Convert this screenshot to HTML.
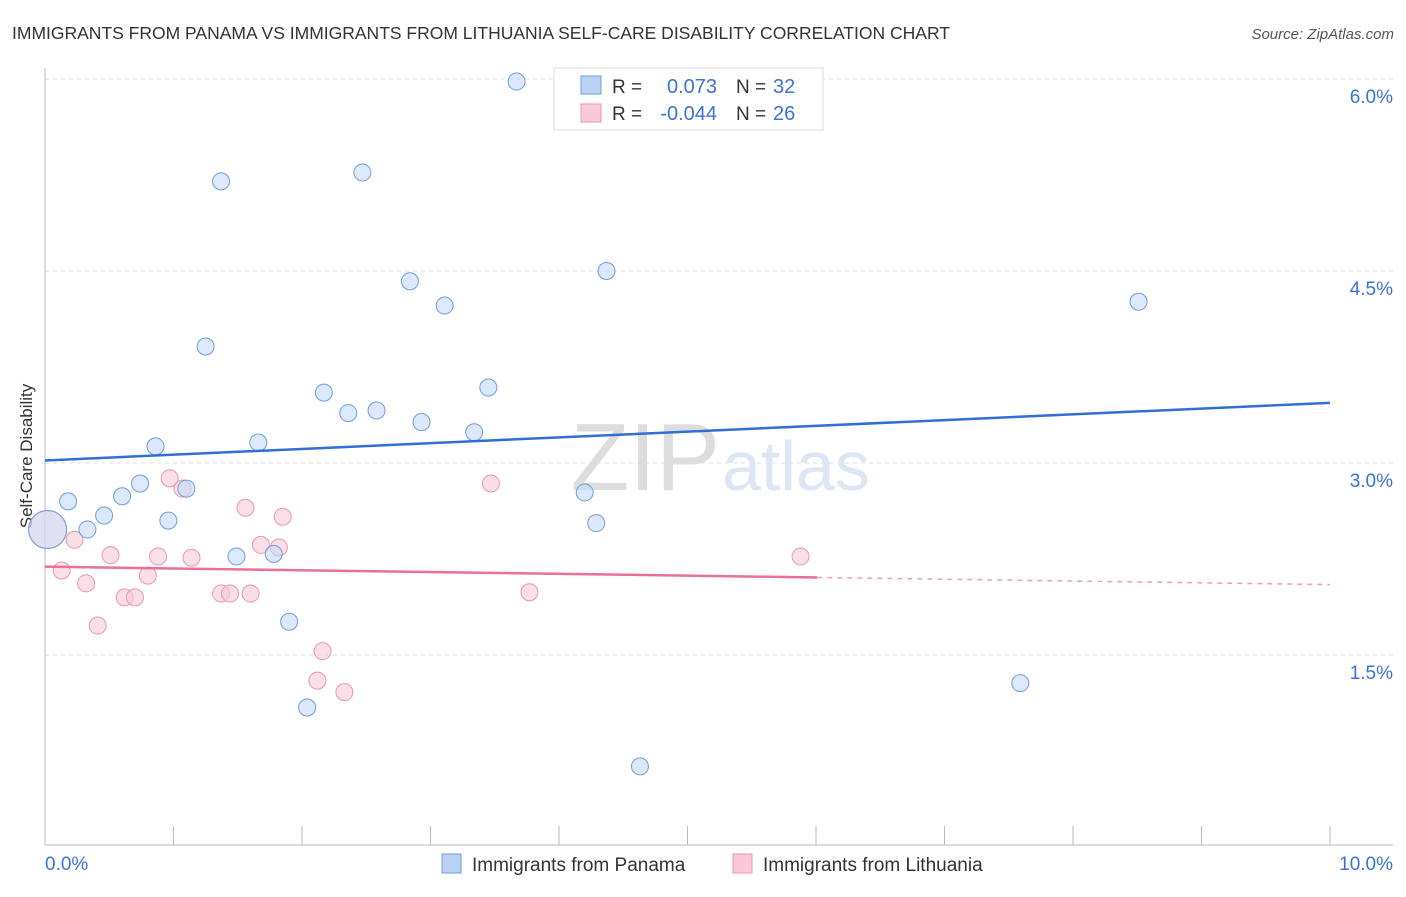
<!DOCTYPE html>
<html><head><meta charset="utf-8"><style>
body{margin:0;background:#fff;font-family:"Liberation Sans",sans-serif;}
svg text{font-family:"Liberation Sans",sans-serif;}
</style></head><body>
<svg id="c" width="1406" height="892">
<text x="12" y="39" font-size="17.5" fill="#333">IMMIGRANTS FROM PANAMA VS IMMIGRANTS FROM LITHUANIA SELF-CARE DISABILITY CORRELATION CHART</text>
<text x="1394" y="39" font-size="15" fill="#555" font-style="italic" text-anchor="end">Source: ZipAtlas.com</text>
<text x="32" y="456" font-size="17" fill="#333" text-anchor="middle" transform="rotate(-90 32 456)">Self-Care Disability</text>
<g id="grid"></g>
<text x="720" y="490" font-size="96" fill="#ddd" text-anchor="end" font-family="Liberation Serif">ZIP</text>
<text x="722" y="490" font-size="70" fill="#dde6f4">atlas</text>
<g id="marks"></g>
<g>
<rect x="554" y="68" width="269" height="62" fill="#fff" stroke="#ddd"/>
<rect x="581" y="76" width="20" height="18" fill="#b9d3f5" stroke="#6f9de0"/>
<rect x="581" y="104" width="20" height="18" fill="#f9c9d7" stroke="#eb96b0"/>
<text x="612" y="93" font-size="19" fill="#333">R = </text><text x="717" y="93" font-size="20" fill="#3b74d4" text-anchor="end">0.073</text>
<text x="736" y="93" font-size="19" fill="#333">N = </text><text x="773" y="93" font-size="20" fill="#3b74d4">32</text>
<text x="612" y="120" font-size="19" fill="#333">R = </text><text x="717" y="120" font-size="20" fill="#3b74d4" text-anchor="end">-0.044</text>
<text x="736" y="120" font-size="19" fill="#333">N = </text><text x="773" y="120" font-size="20" fill="#3b74d4">26</text>
</g>
<g>
<rect x="442" y="854" width="19" height="19" fill="#b9d3f5" stroke="#6f9de0"/>
<text x="472" y="871" font-size="19" fill="#333">Immigrants from Panama</text>
<rect x="733" y="854" width="19" height="19" fill="#f9c9d7" stroke="#eb96b0"/>
<text x="763" y="871" font-size="19" fill="#333">Immigrants from Lithuania</text>
</g>
</svg>
<script>
const yTicks=[1.5,3.0,4.5,6.0];
const yTickLabels=["1.5%","3.0%","4.5%","6.0%"];
const xLabels=["0.0%","10.0%"];
const panamaX=[3.67,1.37,2.47,2.84,3.11,4.37,8.51,1.25,2.17,3.45,2.36,2.58,2.93,3.34,0.86,1.66,0.74,0.18,0.60,1.10,0.46,0.96,0.33,4.20,4.29,1.49,1.78,1.90,2.04,7.59,4.63,0.02];
const panamaY=[5.98,5.20,5.27,4.42,4.23,4.50,4.26,3.91,3.55,3.59,3.39,3.41,3.32,3.24,3.13,3.16,2.84,2.70,2.74,2.80,2.59,2.55,2.48,2.77,2.53,2.27,2.29,1.76,1.09,1.28,0.63,2.48];
const lithX=[0.97,1.07,3.47,1.56,1.85,0.23,0.51,0.88,1.14,1.68,1.82,0.13,0.80,0.32,0.62,0.70,1.37,1.44,1.60,3.77,0.41,2.16,2.12,2.33,5.88,0.02];
const lithY=[2.88,2.80,2.84,2.65,2.58,2.40,2.28,2.27,2.26,2.36,2.34,2.16,2.12,2.06,1.95,1.95,1.98,1.98,1.98,1.99,1.73,1.53,1.30,1.21,2.27,2.48];
const panamaTrend=[3.02,3.47];
const lithTrend=[2.19,2.05];
const lithSolidEnd=6.01;
const NS="http://www.w3.org/2000/svg";
const X=v=>45+v*128.5, Y=v=>847-v*128;
function mk(tag,attrs,parent){const e=document.createElementNS(NS,tag);for(const k in attrs)e.setAttribute(k,attrs[k]);parent.appendChild(e);return e;}
const grid=document.getElementById('grid'), marks=document.getElementById('marks'), svg=document.getElementById('c');
yTicks.forEach((t,i)=>{
 const l=mk('line',{x1:45,x2:1393,y1:Y(t),y2:Y(t),stroke:'#ddd','stroke-dasharray':'4,4'},grid);
 
 
 const tx=mk('text',{x:1393,y:Y(t)+24,'font-size':19,fill:'#3b74d4','text-anchor':'end'},grid);
 tx.textContent=yTickLabels[i];
 
 
});
const ax=mk('line',{x1:45,x2:45,y1:68,y2:845,stroke:'#bbb'},grid);


const bx=mk('line',{x1:45,x2:1393,y1:845,y2:845,stroke:'#bbb'},grid);


for(let i=0;i<=10;i++){
 const t=mk('line',{x1:X(i),x2:X(i),y1:826,y2:845,stroke:'#bbb'},grid);
 
 
}
const xl0=mk('text',{x:45,y:870,'font-size':19,fill:'#3b74d4'},grid);xl0.textContent=xLabels[0];


const xl1=mk('text',{x:1393,y:870,'font-size':19,fill:'#3b74d4','text-anchor':'end'},grid);xl1.textContent=xLabels[1];


function pts(xs,ys,fill,stroke,name){
 xs.forEach((x,i)=>{
  const big=i===xs.length-1;
  const c=mk('circle',{cx:X(x),cy:Y(ys[i]),r:big?19:8.5,fill:fill,'fill-opacity':big?0.5:0.6,stroke:stroke,'stroke-width':1},marks);
  
  
 });
}
pts(lithX,lithY,'#f9c9d7','#eb96b0','lithuania-point');
pts(panamaX,panamaY,'#c4dbf6','#6f9de0','panama-point');
const pl=mk('line',{x1:X(0),y1:Y(panamaTrend[0]),x2:X(10),y2:Y(panamaTrend[1]),stroke:'#2f6fd6','stroke-width':2.5},marks);


const ly=x=>lithTrend[0]+(lithTrend[1]-lithTrend[0])*x/10;
const ll=mk('line',{x1:X(0),y1:Y(ly(0)),x2:X(lithSolidEnd),y2:Y(ly(lithSolidEnd)),stroke:'#e8709a','stroke-width':2.5},marks);


const ld=mk('line',{x1:X(lithSolidEnd),y1:Y(ly(lithSolidEnd)),x2:X(10),y2:Y(ly(10)),stroke:'#eba0b8','stroke-width':1.5,'stroke-dasharray':'5,5'},marks);


</script>
</body></html>
